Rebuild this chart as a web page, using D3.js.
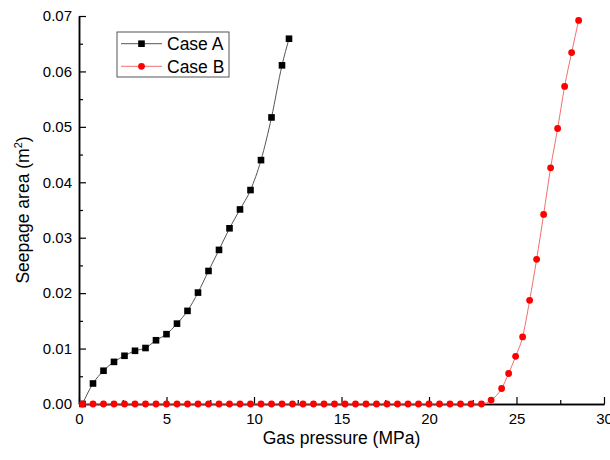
<!DOCTYPE html>
<html>
<head>
<meta charset="utf-8">
<script src="https://cdn.jsdelivr.net/npm/d3@7"></script>
<style>
  body { margin: 0; background: #fff; }
  svg { font-family: "Liberation Sans", Arial, sans-serif; }
</style>
</head>
<body>
<div id="chart"></div>
<script>
// data
var caseAx = [0.2, 0.8, 1.4, 2.0, 2.6, 3.2, 3.8, 4.4, 5.0, 5.6, 6.2, 6.8, 7.4, 8.0, 8.6, 9.2, 9.8, 10.4, 11.0, 11.6, 12.0];
var caseAy = [0, 0.0037, 0.0060, 0.0076, 0.0087, 0.0096, 0.0101, 0.0115, 0.0126, 0.0145, 0.0168, 0.0201, 0.0240, 0.0278, 0.0317, 0.0351, 0.0386, 0.0440, 0.0517, 0.0611, 0.0659];

var caseBx = [0.2, 0.8, 1.4, 2.0, 2.6, 3.2, 3.8, 4.4, 5.0, 5.6, 6.2, 6.8, 7.4, 8.0, 8.6, 9.2, 9.8, 10.4, 11.0, 11.6,
              12.2, 12.8, 13.4, 14.0, 14.6, 15.2, 15.8, 16.4, 17.0, 17.6, 18.2, 18.8, 19.4, 20.0, 20.6, 21.2, 21.8, 22.4, 23.0,
              23.55, 24.15, 24.55, 24.95, 25.35, 25.75, 26.15, 26.55, 26.95, 27.35, 27.75, 28.15, 28.55];
var caseBy = [0, 0, 0, 0, 0, 0, 0, 0, 0, 0, 0, 0, 0, 0, 0, 0, 0, 0, 0, 0,
              0, 0, 0, 0, 0, 0, 0, 0, 0, 0, 0, 0, 0, 0, 0, 0, 0, 0, 0,
              0.0007, 0.0028, 0.0055, 0.0086, 0.0121, 0.0187, 0.0261, 0.0342, 0.0426, 0.0497, 0.0573, 0.0634, 0.0692];

var seriesNames = ["Case A", "Case B"];
var xTicks = [0, 5, 10, 15, 20, 25, 30];
var xMinorTicks = [2.5, 7.5, 12.5, 17.5, 22.5, 27.5];
var yTicks = [0, 0.01, 0.02, 0.03, 0.04, 0.05, 0.06, 0.07];
var yMinorTicks = [0.005, 0.015, 0.025, 0.035, 0.045, 0.055, 0.065];

var width = 610, height = 460;
var margin = {top: 16, right: 6, bottom: 56, left: 79};

var svg = d3.select("#chart").append("svg")
  .attr("width", width)
  .attr("height", height);

var x = d3.scaleLinear().domain([0, 30]).range([margin.left, width - margin.right]);
var y = d3.scaleLinear().domain([0, 0.07]).range([height - margin.bottom, margin.top]);

//Axes with inward ticks
var gx = svg.append("g").attr("transform", "translate(0," + y(0) + ")");
gx.call(d3.axisBottom(x).tickValues(xTicks).tickSizeInner(-7).tickSizeOuter(0).tickFormat(d3.format("d")));
gx.append("g").call(d3.axisBottom(x).tickValues(xMinorTicks).tickSizeInner(-4).tickSizeOuter(0).tickFormat(""));
gx.selectAll("text").attr("y", 9).attr("dy", "0.71em");

var gy = svg.append("g").attr("transform", "translate(" + x(0) + ",0)");
gy.call(d3.axisLeft(y).tickValues(yTicks).tickSizeInner(-7).tickSizeOuter(0).tickFormat(d3.format(".2f")));
gy.append("g").call(d3.axisLeft(y).tickValues(yMinorTicks).tickSizeInner(-4).tickSizeOuter(0).tickFormat(""));
gy.selectAll("text").attr("x", -7);

svg.selectAll(".domain").attr("stroke", "#000").attr("stroke-width", 1.5);
svg.selectAll(".tick line").attr("stroke", "#000").attr("stroke-width", 1.2);
svg.selectAll(".tick text").attr("font-size", 15).attr("fill", "#000")
  .attr("font-family", "Liberation Sans, Arial, sans-serif");

//Axis titles
svg.append("text")
  .attr("x", (x(0) + x(30)) / 2)
  .attr("y", 444)
  .attr("text-anchor", "middle")
  .attr("font-size", 17.5)
  .text("Gas pressure (MPa)");

var yt = svg.append("text")
  .attr("transform", "translate(29," + (y(0) + y(0.07)) / 2 + ") rotate(-90)")
  .attr("text-anchor", "middle")
  .attr("font-size", 17.5);
yt.append("tspan").text("Seepage area (m");
yt.append("tspan").attr("font-size", 11).attr("dy", -7).text("2");
yt.append("tspan").attr("dy", 7).text(")");

//Series
var dataA = caseAx.map(function(d, i){ return {x: d, y: caseAy[i]}; });
var dataB = caseBx.map(function(d, i){ return {x: d, y: caseBy[i]}; });

var line = d3.line()
  .x(function(d){ return x(d.x); })
  .y(function(d){ return y(d.y); })
  .curve(d3.curveMonotoneX);

svg.append("path").datum(dataA)
  .attr("d", line)
  .attr("fill", "none")
  .attr("stroke", "#555")
  .attr("stroke-width", 1);

svg.selectAll("rect.ptA").data(dataA).enter()
  .append("rect")
  .attr("class", "ptA")
  .attr("x", function(d){ return x(d.x) - 3.3; })
  .attr("y", function(d){ return y(d.y) - 3.3; })
  .attr("width", 6.6)
  .attr("height", 6.6)
  .attr("fill", "#000");

svg.append("path").datum(dataB)
  .attr("d", line)
  .attr("fill", "none")
  .attr("stroke", "#f07070")
  .attr("stroke-width", 1);

svg.selectAll("circle.ptB").data(dataB).enter()
  .append("circle")
  .attr("class", "ptB")
  .attr("cx", function(d){ return x(d.x); })
  .attr("cy", function(d){ return y(d.y); })
  .attr("r", 3.4)
  .attr("fill", "#ff0000");

//Legend
var legend = svg.append("g").attr("transform", "translate(117,32)");
legend.append("rect")
  .attr("width", 112).attr("height", 45)
  .attr("fill", "#fff")
  .attr("stroke", "#555").attr("stroke-width", 1);

var rows = legend.selectAll("g.row").data(seriesNames).enter()
  .append("g").attr("class", "row")
  .attr("transform", function(d, i){ return "translate(0," + (11.7 + i * 22.6) + ")"; });

rows.append("line")
  .attr("x1", 4).attr("x2", 45)
  .attr("stroke", function(d, i){ return i == 0 ? "#555" : "#f07070"; })
  .attr("stroke-width", 1);

rows.filter(function(d, i){ return i == 0; }).append("rect")
  .attr("x", 24.5 - 3.3).attr("y", -3.3).attr("width", 6.6).attr("height", 6.6).attr("fill", "#000");
rows.filter(function(d, i){ return i == 1; }).append("circle")
  .attr("cx", 24.5).attr("r", 3.4).attr("fill", "#ff0000");

rows.append("text")
  .attr("x", 50)
  .attr("dy", "0.36em")
  .attr("font-size", 17.5)
  .text(function(d){ return d; });
</script>
</body>
</html>
